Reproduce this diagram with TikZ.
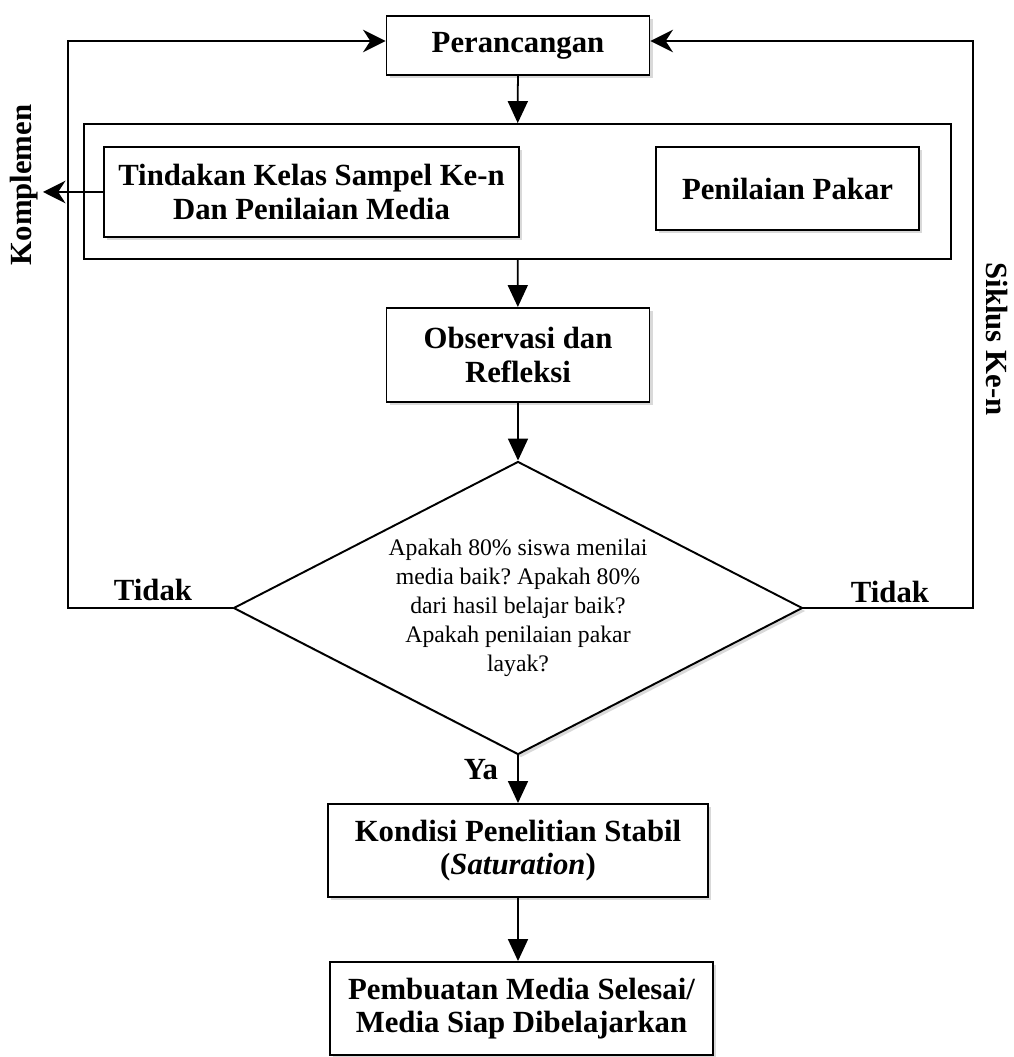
\documentclass[tikz,border=0pt]{standalone}
\usepackage{fontspec}
\setmainfont{Liberation Serif}
\frenchspacing
\usetikzlibrary{arrows.meta, positioning, calc, shapes.geometric, shadows}

\begin{document}
\begin{tikzpicture}[
    box/.style={draw, line width=1.1pt, fill=white, align=center, inner sep=0pt,
      font=\bfseries\fontsize{17.5}{19}\selectfont,
      drop shadow={shadow xshift=0.06cm, shadow yshift=-0.06cm, opacity=0.3}},
    lbl/.style={font=\bfseries\fontsize{17.5}{19}\selectfont},
    flow/.style={line width=1pt, -{Triangle[length=0.44cm, width=0.4cm]}},
    back/.style={line width=1pt, -{Stealth[length=0.45cm, width=0.45cm]}},
  ]
  \useasboundingbox (0,0) rectangle (20.26,-21.14);

  \node[box, minimum width=5.26cm, minimum height=1.18cm] (per) at (10.36,-0.91) {Perancangan};
  \node[draw, line width=1pt, minimum width=17.34cm, minimum height=2.7cm] (grup) at (10.35,-3.83) {};
  \node[box, minimum width=8.3cm, minimum height=1.8cm] (tindakan) at (6.23,-3.84) {Tindakan Kelas Sampel Ke-n\\Dan Penilaian Media};
  \node[box, minimum width=5.26cm, minimum height=1.66cm] (pakar) at (15.75,-3.77) {Penilaian Pakar};
  \node[box, minimum width=5.26cm, minimum height=1.88cm] (obs) at (10.36,-7.1) {Observasi dan\\Refleksi};
  \node[box, diamond, aspect=1.94, minimum width=11.38cm, minimum height=5.86cm,
    font=\fontsize{13.5}{16.5}\selectfont] (cek) at (10.36,-12.16)
    {Apakah 80\% siswa menilai\\media baik? Apakah 80\%\\dari hasil belajar baik?\\Apakah penilaian pakar\\layak?};
  \node[box, minimum width=7.6cm, minimum height=1.86cm] (kondisi) at (10.36,-17.01) {Kondisi Penelitian Stabil\\(\textit{Saturation})};
  \node[box, minimum width=7.66cm, minimum height=1.86cm] (selesai) at (10.43,-20.17) {Pembuatan Media Selesai/\\Media Siap Dibelajarkan};

  \coordinate (kiri) at (1.36,-0.82);
  \coordinate (kanan) at (19.46,-0.82);
  \coordinate (komp) at (0.86,-3.84);

  \node[lbl, rotate=90] (kompl) at (0.48,-3.7) {Komplemen};
  \node[lbl, rotate=-90] (siklus) at (19.94,-6.78) {Siklus Ke-n};
  \node[lbl] (tidakL) at (3.06,-11.8) {Tidak};
  \node[lbl] (tidakR) at (17.8,-11.84) {Tidak};
  \node[lbl] (ya) at (9.62,-15.4) {Ya};

  \draw[flow] (per) -- (grup);
  \draw[flow] (grup) -- (obs);
  \draw[flow] (obs) -- (cek);
  \draw[flow] (cek) -- (kondisi);
  \draw[flow] (kondisi.south) -- (kondisi.south |- selesai.north);
  \draw[back] (tindakan.west) -- (komp);
  \draw[back] (cek.west) -| (kiri) -- (kiri -| per.west);
  \draw[back] (cek.east) -| (kanan) -- (kanan -| per.east);
\end{tikzpicture}
\end{document}
